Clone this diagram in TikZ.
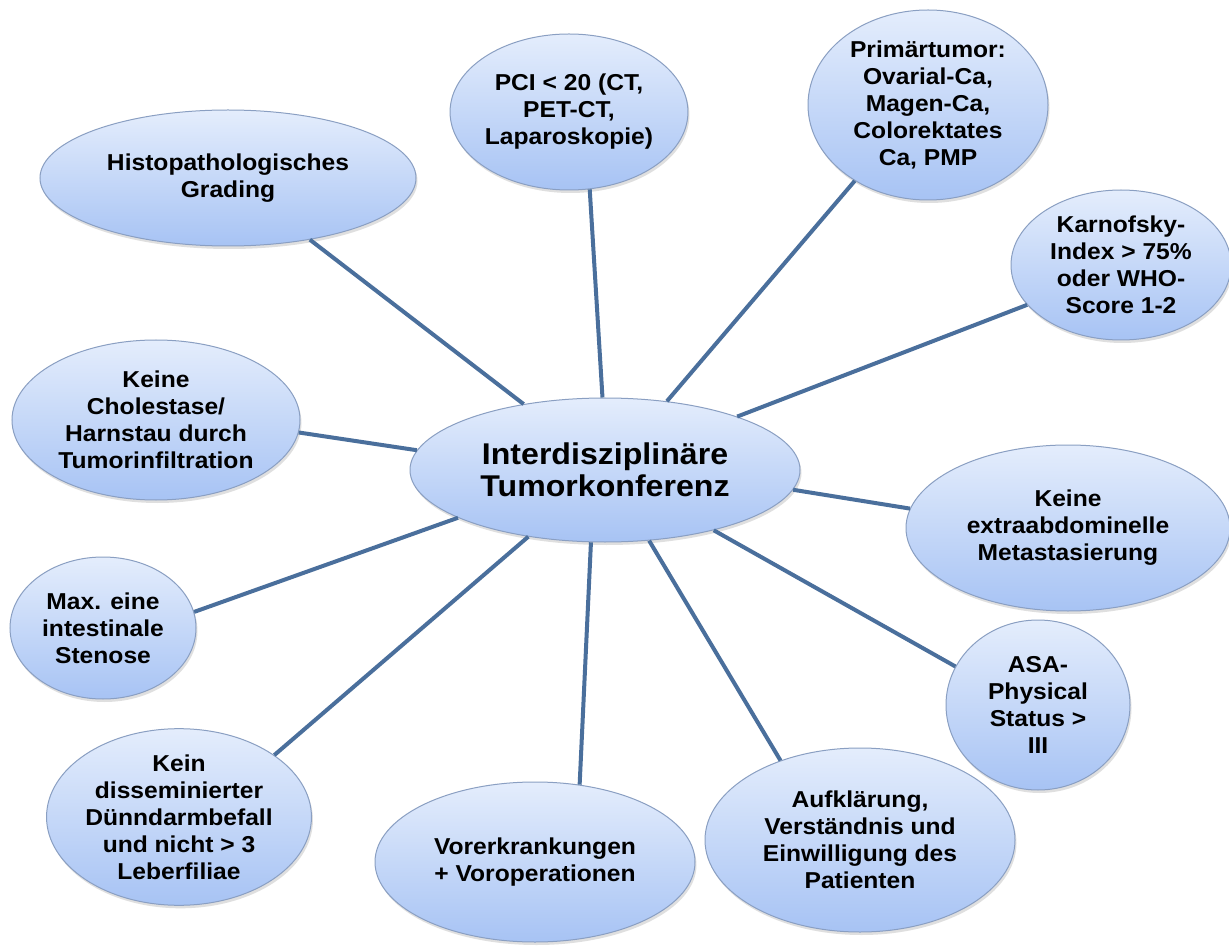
\documentclass[tikz,border=0pt]{standalone}
\usepackage{fontspec}
\setmainfont{Liberation Sans}[FakeStretch=1.07]
\usetikzlibrary{shapes.geometric,shadows}
\definecolor{linec}{HTML}{4A6F9C}
\definecolor{topc}{HTML}{E4EDFC}
\definecolor{botc}{HTML}{A7C3F4}
\definecolor{bordc}{HTML}{8A9FC2}
\tikzset{
  bubble/.style={ellipse, draw=bordc, line width=1pt, top color=topc, bottom color=botc,
    inner sep=0pt, align=center, font=\fontsize{23}{27}\selectfont\bfseries,
    drop shadow={opacity=0.25, shadow xshift=1.5pt, shadow yshift=-3pt}},
  conn/.style={draw=linec, line width=4pt}
}
\begin{document}
\begin{tikzpicture}[x=1pt,y=-1pt]
\useasboundingbox (0,0) rectangle (1229,949);
\fill[white] (0,0) rectangle (1229,949);
\node[bubble, minimum width=390pt, minimum height=144pt, font=\fontsize{30}{32}\selectfont\bfseries] (c) at (605,470) {Interdisziplinäre\\Tumorkonferenz};
\node[bubble, minimum width=376pt, minimum height=136pt] (h) at (228,178) {Histopathologisches\\Grading};
\node[bubble, minimum width=234pt, minimum height=156pt] (p) at (569,112) {PCI < 20 (CT,\\PET-CT,\\Laparoskopie)};
\node[bubble, minimum width=240pt, minimum height=190pt] (pt) at (928,105) {Primärtumor:\\Ovarial-Ca,\\Magen-Ca,\\Colorektates\\Ca, PMP};
\node[bubble, minimum width=220pt, minimum height=150pt] (k) at (1121,265) {Karnofsky-\\Index > 75\%\\oder WHO-\\Score 1-2};
\node[bubble, minimum width=288pt, minimum height=160pt] (ch) at (156,420) {Keine\\Cholestase/\\Harnstau durch\\Tumorinfiltration};
\node[bubble, minimum width=324pt, minimum height=166pt] (e) at (1068,528) {Keine\\extraabdominelle\\Metastasierung};
\node[bubble, minimum width=186pt, minimum height=142pt] (m) at (103,628) {Max. eine\\intestinale\\Stenose};
\node[bubble, minimum width=184pt, minimum height=170pt] (a) at (1038,705) {ASA-\\Physical\\Status >\\III};
\node[bubble, minimum width=262pt, minimum height=170pt] (d) at (179,817) {Kein\\disseminierter\\Dünndarmbefall\\und nicht > 3\\Leberfiliae};
\node[bubble, minimum width=320pt, minimum height=160pt] (v) at (535,862) {Vorerkrankungen\\+ Voroperationen};
\node[bubble, minimum width=310pt, minimum height=184pt] (au) at (860,840) {Aufklärung,\\Verständnis und\\Einwilligung des\\Patienten};
\draw[conn] (h.-37.2) -- (c.141.7);
\draw[conn] (p.-75) -- (c.92);
\draw[conn] (pt.-134.1) -- (c.48.8);
\draw[conn] (k.-157.4) -- (c.22.1);
\draw[conn] (ch.-5.6) -- (c.174);
\draw[conn] (e.173.7) -- (c.-6.4);
\draw[conn] (m.10.8) -- (c.-162.1);
\draw[conn] (a.155.6) -- (c.-29.2);
\draw[conn] (d.33.2) -- (c.-139.1);
\draw[conn] (v.60.4) -- (c.-101.3);
\draw[conn] (au.135.7) -- (c.-58.6);
\end{tikzpicture}
\end{document}
